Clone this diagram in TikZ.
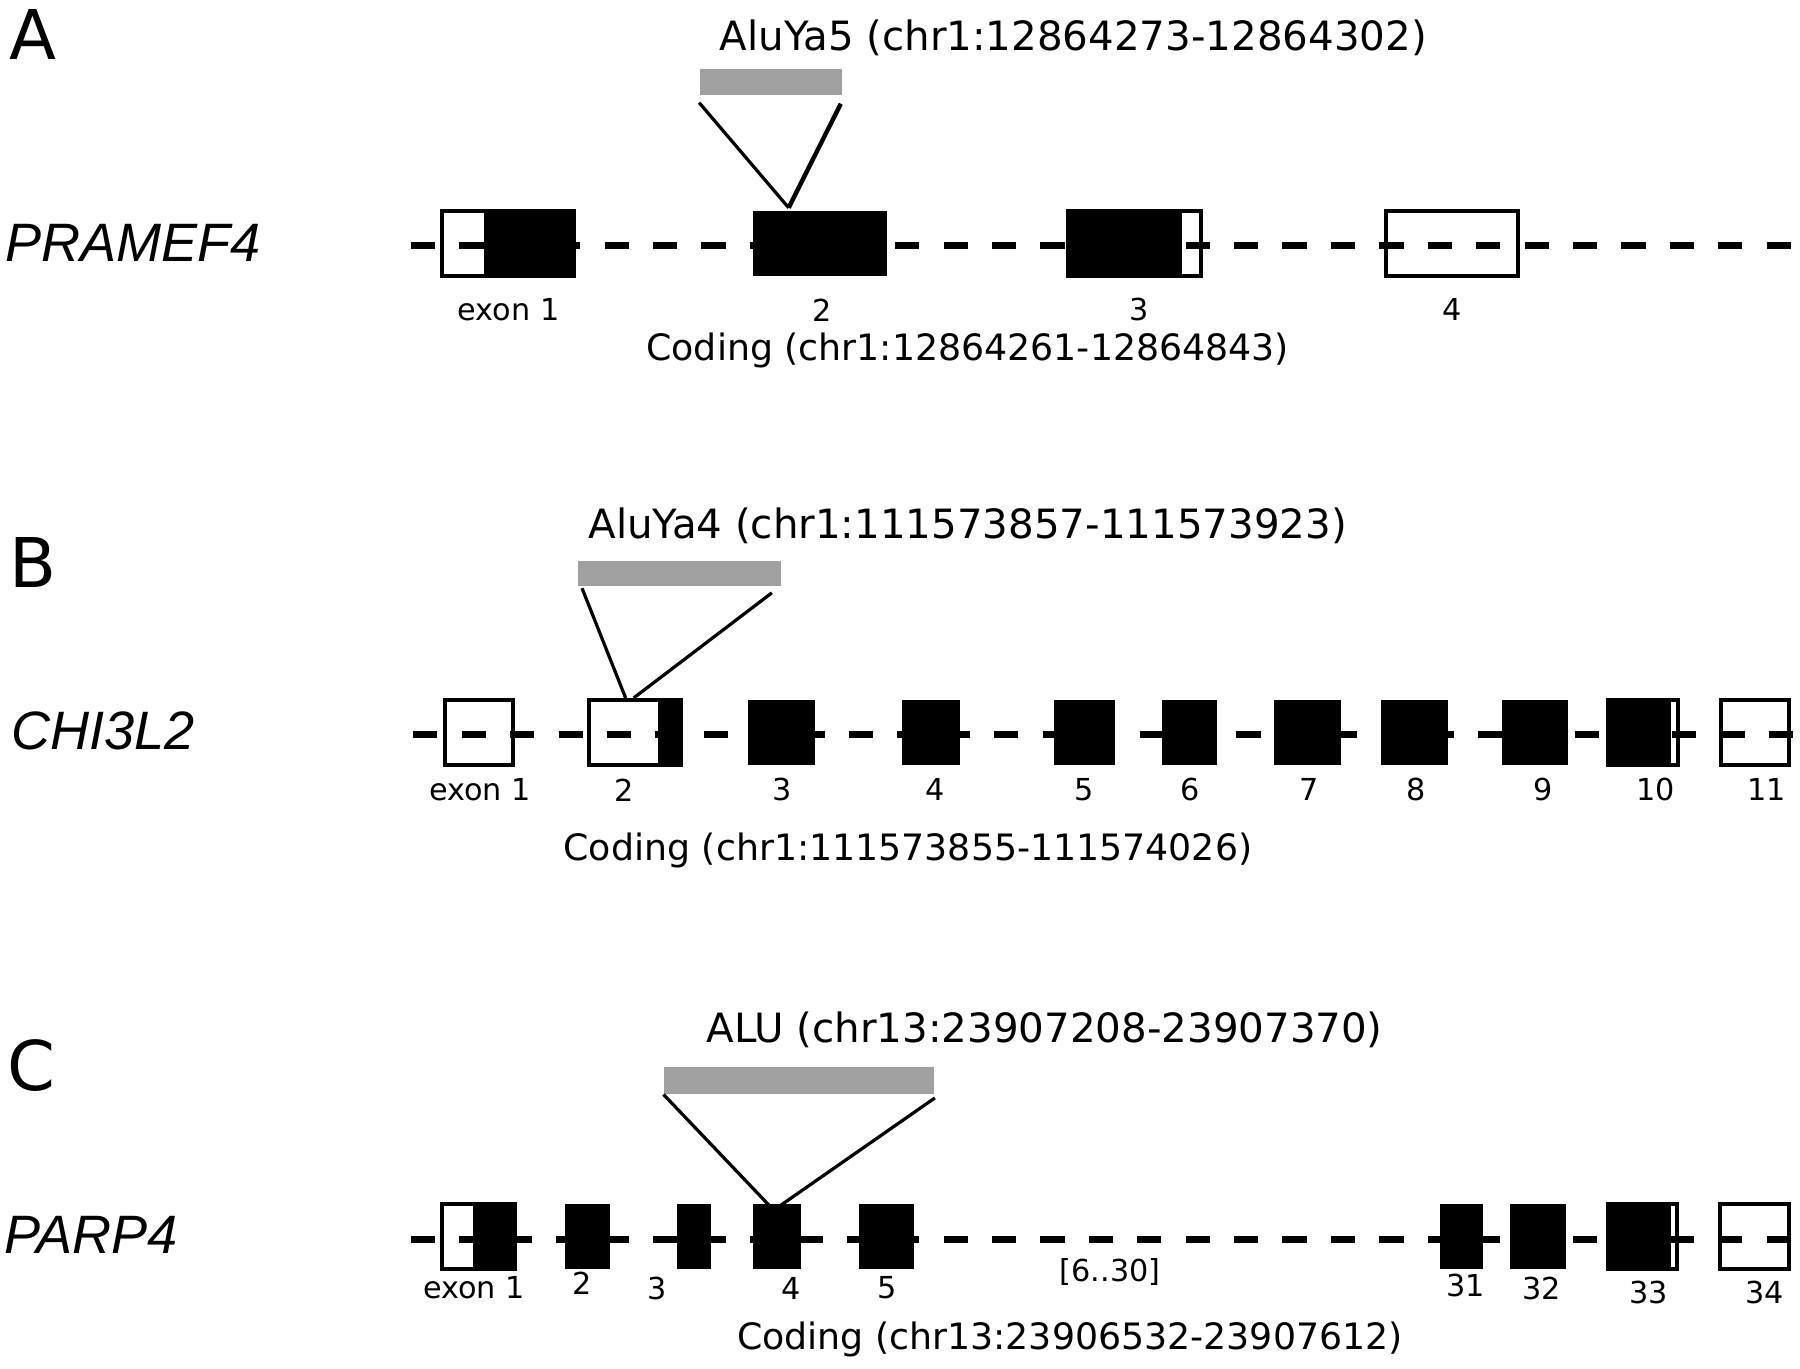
\documentclass[tikz,border=0pt]{standalone}
\usepackage{fontspec}
\setmainfont{DejaVu Sans}
\newfontfamily\genefont{Liberation Sans}
\definecolor{alugray}{HTML}{A0A0A0}
\tikzset{
  utr/.style={draw, line width=1pt, minimum height=0.57cm, inner sep=0pt, outer sep=0pt, anchor=west},
  cds/.style={fill=black, minimum height=0.57cm, inner sep=0pt, outer sep=0pt, anchor=west},
  intron/.style={line width=1.8pt, dash pattern=on 6pt off 6pt},
  alu/.style={fill=alugray, minimum height=0.23cm, inner sep=0pt, anchor=north west},
  ins/.style={line width=0.8pt},
  panel/.style={font=\fontsize{17}{20}\selectfont, inner sep=0pt},
  gene/.style={font=\fontsize{13.4}{16}\selectfont\genefont\itshape, inner sep=0pt, anchor=west},
  title/.style={font=\fontsize{10}{12}\selectfont, inner sep=0pt},
  coding/.style={font=\fontsize{9}{11}\selectfont, inner sep=0pt},
  num/.style={font=\fontsize{7.5}{9}\selectfont, inner sep=0pt}
}
\begin{document}
\begin{tikzpicture}
  \useasboundingbox (0,0) rectangle (15.68,11.92);

  % A
  \node[panel] (pa) at (0.29,11.62) {A};
  \node[gene] (ga) at (0.04,9.80) {PRAMEF4};
  \coordinate (a0) at (3.58,9.78);
  \coordinate (aE) at (15.60,9.78);
  \draw[intron] (a0) -- (aE);
  \node[utr, minimum width=1.15cm] (a1) at (3.85,9.80) {};
  \node[cds, minimum width=0.78cm] (a1c) at (4.22,9.80) {};
  \node[cds, minimum width=1.17cm] (a2) at (6.56,9.80) {};
  \node[utr, minimum width=1.16cm] (a3) at (9.30,9.80) {};
  \node[cds, minimum width=1.00cm] (a3c) at (9.30,9.80) {};
  \node[utr, minimum width=1.15cm] (a4) at (12.07,9.80) {};
  \foreach \x/\t [count=\i] in {4.43/exon 1, 7.16/2, 9.92/3, 12.65/4}
    \node[num] (na\i) at (\x,9.22) {\t};
  \node[coding] (ca) at (8.43,8.87) {Coding (chr1:12864261-12864843)};
  \node[alu, minimum width=1.24cm] (alua) at (6.09,11.33) {};
  \node[title] (ta) at (9.35,11.59) {AluYa5 (chr1:12864273-12864302)};
  \coordinate (insa) at (6.87,10.11);
  \draw[ins] ([yshift=-0.06cm]alua.south west) -- (insa);
  \draw[ins, line width=1.1pt] ([xshift=-0.02cm,yshift=-0.07cm]alua.south east) -- (insa);

  % B
  \node[panel] (pb) at (0.29,7.02) {B};
  \node[gene] (gb) at (0.09,5.55) {CHI3L2};
  \coordinate (b0) at (3.60,5.52);
  \coordinate (bE) at (15.62,5.52);
  \draw[intron] (b0) -- (bE);
  \node[utr, minimum width=0.59cm] (b1) at (3.88,5.54) {};
  \node[utr, minimum width=0.80cm] (b2) at (5.13,5.54) {};
  \node[cds, minimum width=0.20cm] (b2c) at (5.73,5.54) {};
  \foreach \i/\x/\w in {3/6.52/0.58, 4/7.86/0.50, 5/9.18/0.53, 6/10.12/0.48, 7/11.10/0.58, 8/12.03/0.58, 9/13.08/0.58}
    \node[cds, minimum width=\w cm] (b\i) at (\x,5.54) {};
  \node[utr, minimum width=0.61cm] (b10) at (14.01,5.54) {};
  \node[cds, minimum width=0.55cm] (b10c) at (14.01,5.54) {};
  \node[utr, minimum width=0.59cm] (b11) at (14.99,5.54) {};
  \foreach \x/\t [count=\i] in {4.18/exon 1, 5.44/2, 6.81/3, 8.15/4, 9.44/5, 10.37/6, 11.40/7, 12.34/8, 13.44/9, 14.42/10, 15.39/11}
    \node[num] (nb\i) at (\x,5.04) {\t};
  \node[coding] (cb) at (7.91,4.51) {Coding (chr1:111573855-111574026)};
  \node[alu, minimum width=1.77cm, minimum height=0.22cm] (alub) at (5.03,7.04) {};
  \node[title] (tb) at (8.43,7.34) {AluYa4 (chr1:111573857-111573923)};
  \coordinate (insb1) at (5.45,5.84);
  \coordinate (insb2) at (5.52,5.84);
  \draw[ins] ([xshift=0.04cm,yshift=-0.01cm]alub.south west) -- (insb1);
  \draw[ins] ([xshift=-0.09cm,yshift=-0.05cm]alub.south east) -- (insb2);

  % C
  \node[panel] (pc) at (0.27,2.64) {C};
  \node[gene] (gc) at (0.03,1.16) {PARP4};
  \coordinate (c0) at (3.58,1.12);
  \coordinate (cE) at (15.60,1.12);
  \draw[intron] (c0) -- (cE);
  \node[utr, minimum width=0.64cm] (c1) at (3.85,1.15) {};
  \node[cds, minimum width=0.37cm] (c1c) at (4.12,1.15) {};
  \foreach \i/\x/\w in {2/4.92/0.39, 3/5.90/0.29, 4/6.56/0.42, 5/7.48/0.48, 31/12.54/0.38, 32/13.15/0.49}
    \node[cds, minimum width=\w cm] (c\i) at (\x,1.15) {};
  \node[utr, minimum width=0.60cm] (c33) at (14.01,1.15) {};
  \node[cds, minimum width=0.55cm] (c33c) at (14.01,1.15) {};
  \node[utr, minimum width=0.60cm] (c34) at (14.98,1.15) {};
  \foreach \x/\y/\t [count=\i] in {4.13/0.70/exon 1, 5.07/0.74/2, 5.72/0.70/3, 6.89/0.70/4, 7.73/0.70/5, 9.67/0.84/{[6..30]}, 12.77/0.72/31, 13.43/0.70/32, 14.36/0.66/33, 15.37/0.66/34}
    \node[num] (nc\i) at (\x,\y) {\t};
  \node[coding] (cc) at (9.32,0.25) {Coding (chr13:23906532-23907612)};
  \node[alu, minimum width=2.35cm] (aluc) at (5.78,2.63) {};
  \node[title] (tc) at (9.10,2.95) {ALU (chr13:23907208-23907370)};
  \coordinate (insc1) at (6.70,1.42);
  \coordinate (insc2) at (6.80,1.42);
  \draw[ins] (aluc.south west) -- (insc1);
  \draw[ins] ([yshift=-0.03cm]aluc.south east) -- (insc2);
\end{tikzpicture}
\end{document}
